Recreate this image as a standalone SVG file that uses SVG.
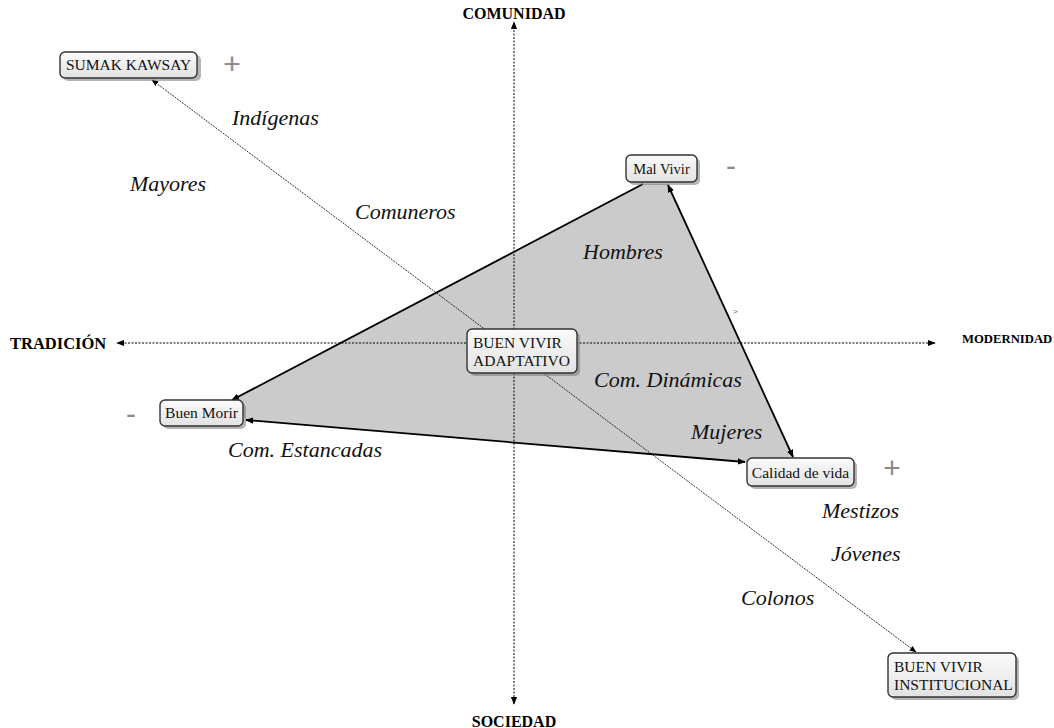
<svg xmlns="http://www.w3.org/2000/svg" width="1054" height="728" viewBox="0 0 1054 728">
<style>
.box{fill:url(#bg);stroke:#333;stroke-width:1.4}
.shadow{fill:#777;opacity:0.55}
.nt{font-family:"Liberation Serif","Times New Roman",serif;fill:#111}
.ax{font-family:"Liberation Serif","Times New Roman",serif;font-weight:bold;fill:#000}
.it{font-family:"Liberation Serif","Times New Roman",serif;font-style:italic;fill:#111}
.sign{font-family:"Liberation Sans",sans-serif;fill:#8a8a8a}
.axis{stroke:#000;stroke-width:1;stroke-dasharray:2,1.5;fill:none}
.diag{stroke:#000;stroke-width:0.8;stroke-dasharray:2,1;fill:none}
.edge{stroke:#000;stroke-width:1.8;fill:none}
</style>
<defs>
<linearGradient id="bg" x1="0" y1="0" x2="0" y2="1">
<stop offset="0" stop-color="#fbfbfb"/>
<stop offset="1" stop-color="#e2e2e2"/>
</linearGradient>
<marker id="ah" viewBox="0 0 10 10" refX="9" refY="5" markerWidth="8" markerHeight="8" markerUnits="userSpaceOnUse" orient="auto-start-reverse">
<path d="M0,1 L10,5 L0,9 Z" fill="#000"/>
</marker>
<marker id="ahs" viewBox="0 0 10 10" refX="9" refY="5" markerWidth="7" markerHeight="7" markerUnits="userSpaceOnUse" orient="auto-start-reverse">
<path d="M0,1 L10,5 L0,9 Z" fill="#000"/>
</marker>
</defs>
<rect width="1054" height="728" fill="#fff"/>
<polygon id="triangle-fill" points="641,184 668,184 793,457 747,462 246,420 234,400" fill="#cbcbcb"/>
<g id="connectors">
<line class="axis" x1="514" y1="704" x2="514" y2="22" marker-end="url(#ah)" marker-start="url(#ah)"/>
<line class="axis" x1="935" y1="343" x2="117" y2="343" marker-end="url(#ah)" marker-start="url(#ah)"/>
<line class="diag" x1="916" y1="652" x2="152" y2="80" marker-end="url(#ahs)" marker-start="url(#ahs)"/>
<line class="edge" x1="643" y1="184" x2="232" y2="400" marker-end="url(#ah)"/>
<line class="edge" x1="793" y1="457" x2="668" y2="185" marker-end="url(#ah)" marker-start="url(#ah)"/>
<line class="edge" x1="745" y1="462" x2="246" y2="420" marker-end="url(#ah)" marker-start="url(#ah)"/>
</g>
<g id="sumak-kawsay">
<rect class="shadow" x="63" y="55" width="138" height="26" rx="5"/>
<rect class="box" x="60" y="52" width="137" height="26" rx="5"/>
<text class="nt" x="128.5" y="70" text-anchor="middle" font-size="15.5">SUMAK KAWSAY</text>
</g>
<g id="mal-vivir">
<rect class="shadow" x="629" y="158" width="71" height="27" rx="5"/>
<rect class="box" x="626" y="155" width="71" height="27" rx="5"/>
<text class="nt" x="661.5" y="173.5" text-anchor="middle" font-size="14.5">Mal Vivir</text>
</g>
<g id="buen-morir">
<rect class="shadow" x="163" y="403" width="83" height="26" rx="5"/>
<rect class="box" x="160" y="400" width="83" height="26" rx="5"/>
<text class="nt" x="201.5" y="418" text-anchor="middle" font-size="15.5">Buen Morir</text>
</g>
<g id="buen-vivir-adaptativo">
<rect class="shadow" x="470" y="332" width="110" height="44" rx="5"/>
<rect class="box" x="467" y="329" width="110" height="44" rx="5"/>
<text class="nt" x="473" y="348" font-size="15.5">BUEN VIVIR</text>
<text class="nt" x="473" y="366" font-size="15.5">ADAPTATIVO</text>
</g>
<g id="calidad-de-vida">
<rect class="shadow" x="750" y="461" width="107" height="28" rx="5"/>
<rect class="box" x="747" y="458" width="107" height="28" rx="5"/>
<text class="nt" x="800.5" y="477.5" text-anchor="middle" font-size="15.5">Calidad de vida</text>
</g>
<g id="buen-vivir-institucional">
<rect class="shadow" x="891" y="656" width="128" height="44" rx="5"/>
<rect class="box" x="888" y="653" width="128" height="44" rx="5"/>
<text class="nt" x="894" y="672" font-size="15.5">BUEN VIVIR</text>
<text class="nt" x="894" y="690" font-size="15.5">INSTITUCIONAL</text>
</g>
<g id="axis-labels">
<text class="ax" x="514" y="19" text-anchor="middle" font-size="16">COMUNIDAD</text>
<text class="ax" x="514" y="727" text-anchor="middle" font-size="16">SOCIEDAD</text>
<text class="ax" x="10" y="349" font-size="16.5">TRADICIÓN</text>
<text class="ax" x="962" y="343" font-size="12.7">MODERNIDAD</text>
</g>
<g id="signs">
<text class="sign" x="232" y="74" text-anchor="middle" font-size="30">+</text>
<text class="sign" x="731" y="176" text-anchor="middle" font-size="30">-</text>
<text class="sign" x="131" y="424" text-anchor="middle" font-size="30">-</text>
<text class="sign" x="892" y="478" text-anchor="middle" font-size="30">+</text>
<text x="733" y="314" font-family="Liberation Sans,sans-serif" font-size="8" fill="#666">&gt;</text>
</g>
<g id="group-labels">
<text class="it" x="232" y="125" font-size="22">Indígenas</text>
<text class="it" x="130" y="191" font-size="22">Mayores</text>
<text class="it" x="355" y="219" font-size="22">Comuneros</text>
<text class="it" x="583" y="259" font-size="22">Hombres</text>
<text class="it" x="594" y="387" font-size="22">Com. Dinámicas</text>
<text class="it" x="691" y="439" font-size="22">Mujeres</text>
<text class="it" x="228" y="457" font-size="22">Com. Estancadas</text>
<text class="it" x="822" y="518" font-size="22">Mestizos</text>
<text class="it" x="831" y="561" font-size="22">Jóvenes</text>
<text class="it" x="741" y="605" font-size="22">Colonos</text>
</g>
</svg>
